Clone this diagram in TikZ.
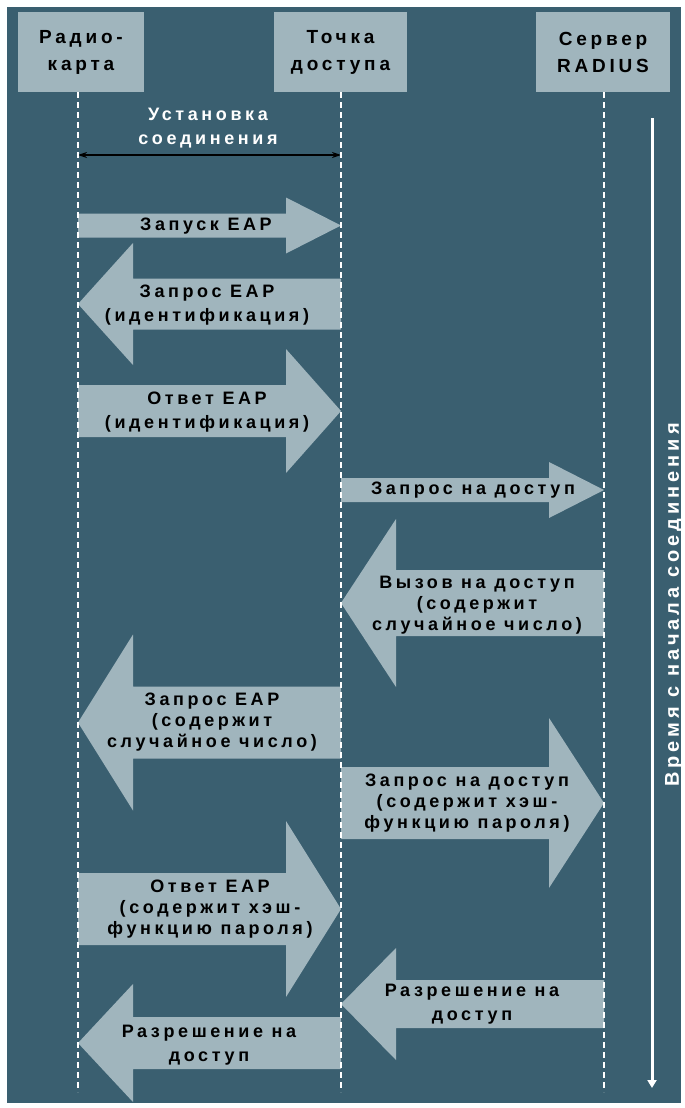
\documentclass[tikz,border=0pt]{standalone}
\usepackage{fontspec}
\setmainfont{Liberation Sans}[LetterSpace=20]
\usetikzlibrary{arrows.meta}
\definecolor{bgteal}{HTML}{3A5F70}
\definecolor{msgblue}{HTML}{A0B5BD}
\tikzset{
  head/.style={fill=msgblue, minimum height=80, inner sep=0pt, align=center,
    font=\bfseries\fontsize{19}{27}\selectfont},
  msgtext/.style={align=center, inner sep=0pt, font=\bfseries\fontsize{18}{21}\selectfont},
  twoline/.style={font=\bfseries\fontsize{18}{24}\selectfont},
  lifeline/.style={white, line width=1.3pt, dash pattern=on 6pt off 4pt},
}
% block arrow: tail x, tip x, middle y, half shaft, half head
\newcommand{\msgarrow}[5]{%
  \pgfmathsetmacro{\hb}{#2-55*sign(#2-#1)}
  \fill[msgblue] (#1,#3-#4) -- (\hb,#3-#4) -- (\hb,#3-#5) -- (#2,#3)
    -- (\hb,#3+#5) -- (\hb,#3+#4) -- (#1,#3+#4) -- cycle;}

\begin{document}
\begin{tikzpicture}[x=1pt,y=-1pt]
\useasboundingbox (0,0) rectangle (685,1108);
\fill[bgteal] (7,7) rectangle (681,1103);
%% heads
\node[head, minimum width=126] (card) at (81,52) {Радио-\\карта};
\node[head, minimum width=133] (ap) at (340.5,52) {Точка\\доступа};
\node[head, minimum width=134] (radius) at (603,52) {Сервер\\RADIUS};
\coordinate (cardtop) at (78,92);
\coordinate (cardend) at (78,1092);
\coordinate (aptop) at (341,92);
\coordinate (apend) at (341,1092);
\coordinate (radtop) at (604,92);
\coordinate (radend) at (604,1092);
%% connection setup
\node[msgtext, twoline, white] (setup) at (208,128) {Установка\\соединения};
\coordinate (setupl) at (78,155);
\coordinate (setupr) at (341,155);
\draw[{Stealth[length=9pt,width=6pt]}-{Stealth[length=9pt,width=6pt]}, line width=1.2pt] (setupl) -- (setupr);
%% messages
\msgarrow{78}{341}{225.5}{12}{28}
\node[msgtext] (m1) at (206,226) {Запуск EAP};
\msgarrow{341}{78}{304}{25.5}{61}
\node[msgtext, twoline] (m2) at (207,305) {Запрос EAP\\(идентификация)};
\msgarrow{78}{341}{411}{26}{62}
\node[msgtext, twoline] (m3) at (207,412) {Ответ EAP\\(идентификация)};
\msgarrow{341}{604}{490}{12}{28}
\node[msgtext] (m4) at (473,490) {Запрос на доступ};
\msgarrow{604}{341}{603}{33}{84}
\node[msgtext] (m5) at (477,605) {Вызов на доступ\\(содержит\\случайное число)};
\msgarrow{341}{78}{722.5}{36}{88}
\node[msgtext] (m6) at (212,722) {Запрос EAP\\(содержит\\случайное число)};
\msgarrow{341}{604}{803}{36}{85}
\node[msgtext] (m7) at (467,803) {Запрос на доступ\\(содержит хэш-\\функцию пароля)};
\msgarrow{78}{341}{909}{36}{88}
\node[msgtext] (m8) at (210,909) {Ответ EAP\\(содержит хэш-\\функцию пароля)};
\msgarrow{604}{341}{1004}{24}{56}
\node[msgtext, twoline] (m9) at (472,1004) {Разрешение на\\доступ};
\msgarrow{341}{78}{1043}{26}{59}
\node[msgtext, twoline] (m10) at (209,1045) {Разрешение на\\доступ};
%% lifelines
\draw[lifeline] (cardtop) -- (cardend);
\draw[lifeline] (aptop) -- (apend);
\draw[lifeline] (radtop) -- (radend);
%% time
\coordinate (tstart) at (652,118);
\coordinate (tend) at (652,1088);
\draw[white, line width=3pt, -{Triangle[length=8pt,width=9pt]}] (tstart) -- (tend);
\node[msgtext, white, rotate=90, font=\bfseries\fontsize{20}{22}\selectfont] (time) at (674,605) {Время с начала соединения};
\end{tikzpicture}
\end{document}
